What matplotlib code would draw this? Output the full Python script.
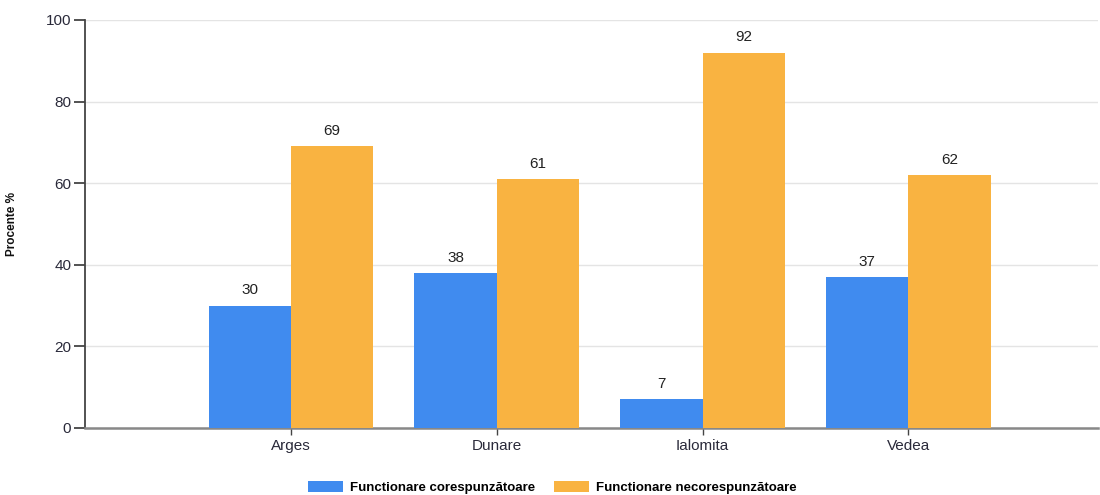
import numpy as np
import matplotlib.pyplot as plt

# Date
judete = ['Arges', 'Dunare', 'Ialomita', 'Vedea']
corespunzatoare = [30, 38, 7, 37]
necorespunzatoare = [69, 61, 92, 62]
serii = ['Functionare corespunzătoare', 'Functionare necorespunzătoare']

plt.rcParams['font.family'] = ['Liberation Sans', 'DejaVu Sans']

fig = plt.figure(figsize=(11, 4.95), dpi=100)
ax = fig.add_axes([0.0773, 0.1354, 0.9207, 0.8242])

x = np.arange(1, len(judete) + 1)
w = 0.40
b1 = ax.bar(x - w / 2, corespunzatoare, w, color='#408bef', label=serii[0], zorder=3)
b2 = ax.bar(x + w / 2, necorespunzatoare, w, color='#f9b341', label=serii[1], zorder=3)

for bars in (b1, b2):
    for b in bars:
        ax.annotate(f'{b.get_height():.0f}', (b.get_x() + b.get_width() / 2, b.get_height()),
                    xytext=(0, 6), textcoords='offset points', ha='center', va='bottom',
                    fontsize=11, color='#222222')

ax.set_xlim(0, 4.92)
ax.set_ylim(0, 100)
ax.set_yticks(range(0, 101, 20))
ax.set_xticks(x)
ax.set_xticklabels(judete)
ax.grid(axis='y', color='#e4e4e4', linewidth=1, zorder=0)

for s in ['top', 'right']:
    ax.spines[s].set_visible(False)
ax.spines['left'].set_color('#444444')
ax.spines['left'].set_linewidth(1.3)
ax.spines['bottom'].set_color('#888888')
ax.spines['bottom'].set_linewidth(1.8)
ax.tick_params(axis='y', length=8, width=1.3, color='#444444', labelsize=11, labelcolor='#2a2a3a', pad=2)
ax.tick_params(axis='x', length=5, width=1, color='#444444', labelsize=11, labelcolor='#2a2a3a', pad=3)

ax.set_ylabel('Procente %', fontsize=8.5, fontweight='bold', color='#111111')
ax.yaxis.set_label_coords(-0.066, 0.5)

fig.legend(handles=[b1, b2], loc='center', bbox_to_anchor=(0.502, 0.015), ncol=2, frameon=False,
           prop={'weight': 'bold', 'size': 9.5}, handlelength=2.7, handleheight=0.9,
           columnspacing=1.4, handletextpad=0.5)

fig.savefig('out.png', dpi=100)
